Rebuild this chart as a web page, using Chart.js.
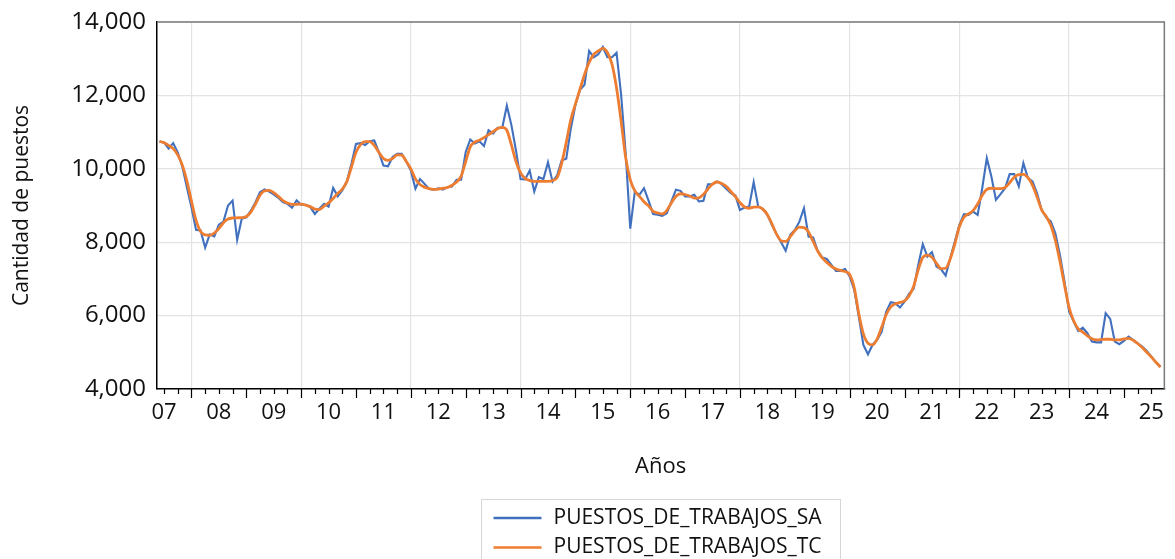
<!DOCTYPE html>
<html>
<head>
<meta charset="utf-8">
<title>Puestos de trabajo</title>
<script src="https://cdn.jsdelivr.net/npm/chart.js@4.4.0/dist/chart.umd.min.js"></script>
<style>
  html, body { margin: 0; padding: 0; background: #fff; }
  #wrap { width: 1175px; height: 559px; position: relative; }
</style>
</head>
<body>
<div id="wrap"><canvas id="chart"></canvas></div>
<script>
// serie mensual, primer dato junio 2007
const firstYear = 2007;
const firstMonth = 6;
const seriesNames = ['PUESTOS_DE_TRABAJOS_SA', 'PUESTOS_DE_TRABAJOS_TC'];
const seriesColors = ['#4170bf', '#ed7d31'];
const yTickValues = [4000, 6000, 8000, 10000, 12000, 14000];

const puestosSA = [
  10740, 10720, 10550, 10700, 10450, 10060, 9500,
  8950, 8340, 8320, 7850, 8210, 8160, 8480, 8560, 9000, 9135, 8065, 8640,
  8680, 8860, 9090, 9360, 9440, 9380, 9300, 9210, 9090, 9045, 8940, 9140,
  9020, 9020, 8955, 8770, 8910, 9045, 8970, 9480, 9250, 9410, 9660, 10140,
  10680, 10700, 10650, 10750, 10770, 10455, 10090, 10070, 10320, 10410, 10410, 10200,
  9950, 9460, 9720, 9590, 9450, 9430, 9470, 9430, 9500, 9520, 9700, 9700,
  10460, 10800, 10690, 10750, 10620, 11050, 10960, 11120, 11120, 11720, 11190, 10500,
  9720, 9710, 9950, 9380, 9770, 9720, 10180, 9650, 9820, 10230, 10275, 11100,
  11740, 12150, 12290, 13210, 13040, 13120, 13320, 13040, 13040, 13160, 12020, 10420,
  8370, 9380, 9290, 9470, 9130, 8770, 8750, 8720, 8790, 9110, 9430, 9400,
  9245, 9245, 9290, 9110, 9130, 9580, 9580, 9655, 9580, 9455, 9335, 9270,
  8880, 8945, 8970, 9636, 8970, 8910, 8745, 8470, 8220, 8000, 7765, 8200,
  8335, 8560, 8925, 8155, 8130, 7765, 7580, 7545, 7380, 7220, 7220, 7270,
  7065, 6700, 5970, 5200, 4945, 5200, 5340, 5560, 6110, 6365, 6340, 6220,
  6380, 6600, 6730, 7380, 7945, 7610, 7730, 7335, 7260, 7090, 7565, 8020,
  8475, 8765, 8745, 8835, 8745, 9470, 10290, 9790, 9155, 9310, 9470, 9855,
  9855, 9520, 10155, 9745, 9655, 9335, 8880, 8670, 8565, 8245, 7655, 6930,
  6110, 5835, 5580, 5670, 5520, 5290, 5270, 5270, 6065, 5910, 5290, 5220,
  5310, 5430, 5340, 5245, 5155, 5035, 4880, 4725, 4610
];

const puestosTC = [
  10750, 10710, 10640, 10550, 10380, 10100, 9670,
  9120, 8600, 8290, 8200, 8190, 8250, 8370, 8530, 8630, 8660, 8665, 8670,
  8700, 8820, 9040, 9280, 9400, 9410, 9350, 9250, 9135, 9070, 9030, 9030,
  9040, 9010, 8970, 8900, 8890, 8980, 9070, 9190, 9330, 9450, 9650, 10050,
  10450, 10660, 10740, 10740, 10640, 10450, 10280, 10230, 10280, 10380, 10370, 10200,
  10000, 9725, 9570, 9500, 9460, 9440, 9445, 9470, 9490, 9550, 9640, 9800,
  10200, 10600, 10730, 10780, 10850, 10930, 11010, 11100, 11130, 11050, 10650, 10200,
  9890, 9740, 9680, 9660, 9660, 9660, 9660, 9680, 9760, 10150, 10720, 11340,
  11760, 12170, 12570, 12900, 13120, 13210, 13280, 13170, 12850, 12200, 11300, 10300,
  9700, 9400, 9250, 9100, 8990, 8840, 8800, 8770, 8870, 9070, 9250, 9320,
  9300, 9260, 9200, 9210, 9300, 9450, 9580, 9640, 9600, 9520, 9380, 9240,
  9080, 8960, 8925, 8955, 8960, 8900, 8750, 8500, 8220, 8040, 8020, 8150,
  8310, 8410, 8400, 8280, 8020, 7760, 7570, 7450, 7340, 7270, 7230, 7200,
  7120, 6760, 6050, 5500, 5245, 5200, 5360, 5680, 6030, 6240, 6320, 6360,
  6400, 6540, 6800, 7250, 7580, 7650, 7590, 7420, 7280, 7290, 7540, 7950,
  8420, 8680, 8770, 8860, 9040, 9280, 9440, 9470, 9460, 9460, 9490, 9620,
  9770, 9840, 9850, 9760, 9550, 9230, 8880, 8700, 8460, 8050, 7480, 6830,
  6220, 5860, 5640, 5550, 5450, 5370, 5340, 5345, 5355, 5355, 5340, 5340,
  5365, 5380, 5330, 5240, 5130, 5000, 4870, 4730, 4600
];

// fecha decimal de cada mes (2008.0 = enero 2008)
const periods = puestosSA.map((_, i) => {
  const m = firstMonth - 1 + i;
  return firstYear + Math.floor(m / 12) + (m % 12) / 12;
});

const FONT = 'Open Sans';
const TEXT = '#111';

// marco gris arriba y a la derecha
const framePlugin = {
  id: 'frame',
  afterDraw(chart) {
    const { ctx, chartArea: a } = chart;
    ctx.save();
    ctx.strokeStyle = '#7a7a7a';
    ctx.lineWidth = 1.5;
    ctx.beginPath();
    ctx.moveTo(a.left, a.top);
    ctx.lineTo(a.right, a.top);
    ctx.lineTo(a.right, a.bottom);
    ctx.stroke();
    ctx.restore();
  }
};

// marcas trimestrales bajo el eje x, mas largas en enero
const quarterTicks = {
  id: 'quarterTicks',
  afterDraw(chart) {
    const x = chart.scales.x;
    const { ctx } = chart;
    ctx.save();
    ctx.strokeStyle = '#000';
    ctx.lineWidth = 1.2;
    x.ticks.forEach(t => {
      const px = Math.round(x.getPixelForValue(t.value)) + 0.5;
      const len = Number.isInteger(t.value) ? 9 : 5;
      ctx.beginPath();
      ctx.moveTo(px, x.top);
      ctx.lineTo(px, x.top + len);
      ctx.stroke();
    });
    ctx.restore();
  }
};

// leyenda con recuadro, dos filas
const boxLegend = {
  id: 'boxLegend',
  afterDraw(chart) {
    const { ctx, chartArea: a } = chart;
    const boxW = 359;
    const left = Math.round((a.left + a.right) / 2 - boxW / 2) + 0.5;
    const top = 499.5;
    ctx.save();
    ctx.strokeStyle = '#d6d6d6';
    ctx.lineWidth = 1;
    ctx.strokeRect(left, top, boxW, 80);
    ctx.font = '21px "' + FONT + '"';
    ctx.textBaseline = 'middle';
    ctx.fillStyle = TEXT;
    chart.data.datasets.forEach((ds, i) => {
      const y = 518 + i * 29.5;
      ctx.strokeStyle = ds.borderColor;
      ctx.lineWidth = 2.5;
      ctx.beginPath();
      ctx.moveTo(left + 12, y);
      ctx.lineTo(left + 60, y);
      ctx.stroke();
      ctx.fillText(ds.label, left + 72, y);
    });
    ctx.restore();
  }
};

new Chart(document.getElementById('chart'), {
  type: 'line',
  data: {
    datasets: [
      {
        label: seriesNames[0],
        data: periods.map((x, i) => ({ x, y: puestosSA[i] })),
        borderColor: seriesColors[0],
        borderWidth: 2.1,
        pointRadius: 0,
        tension: 0,
        order: 1
      },
      {
        label: seriesNames[1],
        data: periods.map((x, i) => ({ x, y: puestosTC[i] })),
        borderColor: seriesColors[1],
        borderWidth: 2.8,
        pointRadius: 0,
        cubicInterpolationMode: 'monotone',
        order: 0
      }
    ]
  },
  options: {
    responsive: true,
    maintainAspectRatio: false,
    animation: false,
    layout: { padding: { top: 22, right: 5, left: 0, bottom: 0 } },
    plugins: {
      legend: { display: false },
      tooltip: { enabled: false }
    },
    scales: {
      x: {
        type: 'linear',
        min: 2007.372,
        max: 2025.737,
        afterBuildTicks: scale => {
          const ticks = [];
          for (let q = Math.ceil(scale.min * 4); q <= Math.floor(scale.max * 4); q++) {
            ticks.push({ value: q / 4 });
          }
          scale.ticks = ticks;
        },
        afterFit: scale => { scale.height = 170; },
        ticks: {
          autoSkip: false,
          maxRotation: 0,
          padding: 11,
          color: TEXT,
          font: { family: FONT, size: 22 },
          callback: v => (v - Math.floor(v) === 0.5)
            ? String(Math.floor(v) % 100).padStart(2, '0') : ''
        },
        grid: {
          drawTicks: false,
          lineWidth: 1.2,
          color: c => (c.tick && Number.isInteger(c.tick.value) && c.tick.value % 2 === 0)
            ? '#e3e3e3' : 'rgba(0,0,0,0)'
        },
        border: { color: '#000', width: 1.5 },
        title: {
          display: true,
          text: 'Años',
          color: TEXT,
          font: { family: FONT, size: 22 },
          padding: { top: 0, bottom: 79 }
        }
      },
      y: {
        min: 4000,
        max: 14000,
        afterBuildTicks: scale => { scale.ticks = yTickValues.map(v => ({ value: v })); },
        afterFit: scale => {
          scale.width = 157;
          // que la etiqueta superior no empuje el area del grafico
          scale.paddingTop = 0;
          scale.paddingBottom = 0;
        },
        ticks: {
          padding: 11,
          color: TEXT,
          font: { family: FONT, size: 24 },
          callback: v => v.toLocaleString('en-US')
        },
        grid: { drawTicks: false, color: '#e3e3e3', lineWidth: 1.2 },
        border: { color: '#000', width: 1.5 },
        title: {
          display: true,
          text: 'Cantidad de puestos',
          color: TEXT,
          font: { family: FONT, size: 21 },
          padding: { top: 9, bottom: 0 }
        }
      }
    }
  },
  plugins: [framePlugin, quarterTicks, boxLegend]
});
</script>
</body>
</html>
